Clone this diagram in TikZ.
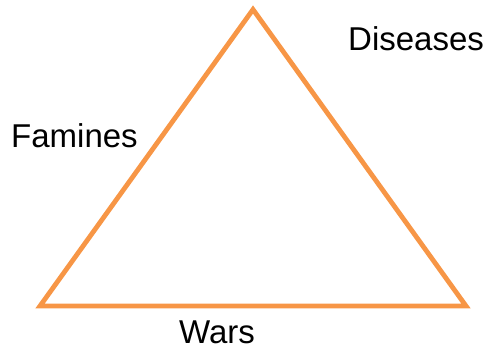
\documentclass[tikz,border=0pt]{standalone}
\usepackage{fontspec}
\setmainfont{Liberation Sans}
\definecolor{triorange}{HTML}{F79646}
\begin{document}
\begin{tikzpicture}[x=1pt,y=1pt,
  edge/.style={draw=triorange,line width=4.8pt,line join=miter},
  lbl/.style={anchor=base west,inner sep=0pt,font=\fontsize{33}{39}\selectfont}]
\useasboundingbox (0,0) rectangle (485,353);
\coordinate (top) at (253,343.5);
\coordinate (bl) at (40,47);
\coordinate (br) at (466,47);
\draw[edge] (top) -- (bl) -- (br) -- cycle;
\node[lbl] (dis) at (348,302) {Diseases};
\node[lbl] (fam) at (11,205) {Famines};
\node[lbl] (war) at (179,9) {Wars};
\end{tikzpicture}
\end{document}
